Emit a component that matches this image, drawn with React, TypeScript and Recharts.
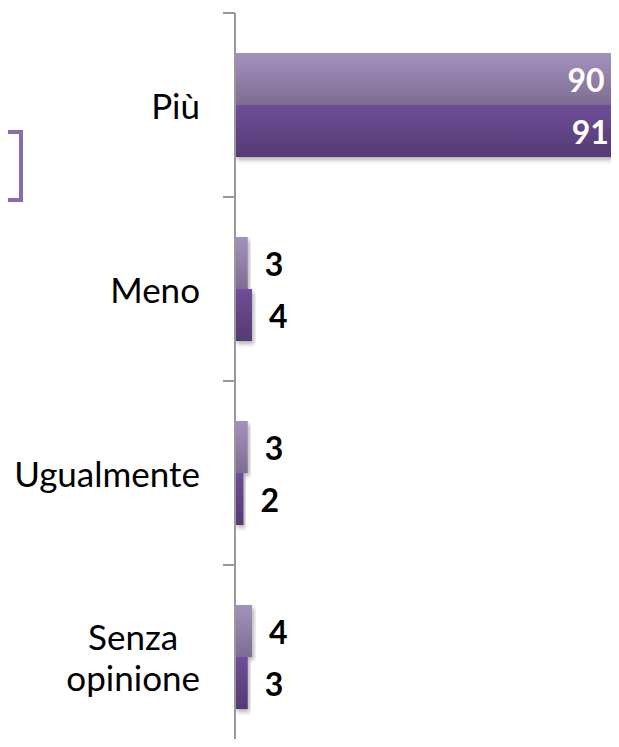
import { BarChart, Bar, XAxis, YAxis, LabelList } from 'recharts';

const categories = ['Più', 'Meno', 'Ugualmente', 'Senza opinione'];
const serie1 = [90, 3, 3, 4];
const serie2 = [91, 4, 2, 3];

const data = categories.map((name, i) => ({ name, serie1: serie1[i], serie2: serie2[i] }));

const FONT = 'Lato, "Liberation Sans", sans-serif';

function CategoryTick(props: any) {
    const { x, y, payload, height } = props;
    const half = payload.offset || height / categories.length / 2;
    const words = String(payload.value).split(' ');
    return (
        <g>
            <line x1={x - 12} x2={x} y1={y - half} y2={y - half} stroke="#999" strokeWidth={2} />
            <foreignObject x={0} y={y - 70} width={x - 35} height={140}>
                <div style={{
                    width: '100%', height: '100%', display: 'flex', alignItems: 'center',
                    justifyContent: 'flex-end', fontFamily: FONT, fontSize: 35, color: '#000'
                }}>
                    <div style={{ textAlign: 'center', lineHeight: '41px' }}>
                        {words.map((w, i) => <div key={i}>{w}</div>)}
                    </div>
                </div>
            </foreignObject>
        </g>
    );
}

function ValueLabel(props: any) {
    const { x, y, width, height, value } = props;
    const inside = value > 50;
    return (
        <text
            x={inside ? x + width - 13 : x + width + 17}
            y={y + height / 2}
            textAnchor={inside ? 'end' : 'start'}
            dominantBaseline="central"
            fill={inside ? '#fff' : '#000'}
            fontFamily={FONT}
            fontWeight="bold"
            fontSize={32}
        >
            {value}
        </text>
    );
}

export default function App() {
    return (
        <div style={{ position: 'relative', width: 619, height: 747, margin: -8, overflow: 'hidden', background: '#fff' }}>
            <div style={{
                position: 'absolute', left: -60, top: 130, width: 83, height: 72,
                boxSizing: 'border-box', border: '4px solid #8a6bb0'
            }} />
            <div style={{ position: 'absolute', left: 0, top: 0 }}>
                <BarChart width={660} height={760} data={data} layout="vertical"
                    margin={{ top: 13, right: 0, bottom: 11, left: 0 }}
                    barCategoryGap={40} barGap={0}>
                    <defs>
                        <linearGradient id="g1" x1="0" y1="0" x2="0" y2="1">
                            <stop offset="0%" stopColor="#a492be" />
                            <stop offset="100%" stopColor="#7e6c93" />
                        </linearGradient>
                        <linearGradient id="g2" x1="0" y1="0" x2="0" y2="1">
                            <stop offset="0%" stopColor="#6f4f98" />
                            <stop offset="100%" stopColor="#553973" />
                        </linearGradient>
                        <filter id="sh" x="-10%" y="-10%" width="130%" height="140%">
                            <feDropShadow dx="2" dy="3" stdDeviation="2" floodColor="#000" floodOpacity="0.3" />
                        </filter>
                    </defs>
                    <XAxis type="number" domain={[0, 100]} hide />
                    <YAxis type="category" dataKey="name" width={235}
                        axisLine={{ stroke: '#999', strokeWidth: 2 }}
                        tickLine={false} tickSize={0} tickMargin={0}
                        tick={<CategoryTick />} interval={0} />
                    <Bar dataKey="serie1" name="Serie 1" fill="url(#g1)" filter="url(#sh)" isAnimationActive={false}>
                        <LabelList dataKey="serie1" content={<ValueLabel />} />
                    </Bar>
                    <Bar dataKey="serie2" name="Serie 2" fill="url(#g2)" filter="url(#sh)" isAnimationActive={false}>
                        <LabelList dataKey="serie2" content={<ValueLabel />} />
                    </Bar>
                </BarChart>
            </div>
        </div>
    );
}
